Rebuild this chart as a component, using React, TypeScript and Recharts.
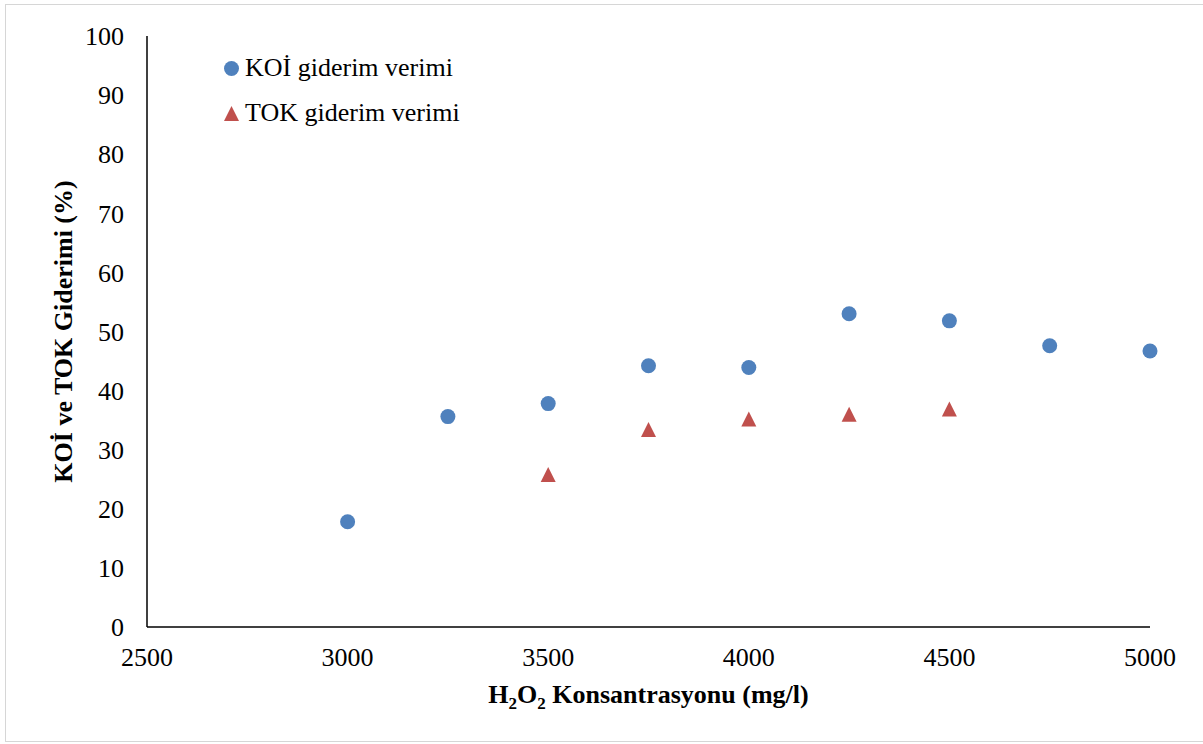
import { ScatterChart, Scatter, XAxis, YAxis, Legend, Label } from 'recharts'

// H2O2 dose (mg/l) vs removal efficiency (%)
const koiDoses = [3000, 3250, 3500, 3750, 4000, 4250, 4500, 4750, 5000]
const koiRemoval = [17.8, 35.6, 37.8, 44.2, 43.9, 53.0, 51.8, 47.6, 46.7]
const tokDoses = [3500, 3750, 4000, 4250, 4500]
const tokRemoval = [25.8, 33.4, 35.2, 36.0, 36.9]

const xTicks = [2500, 3000, 3500, 4000, 4500, 5000]
const yTicks = [0, 10, 20, 30, 40, 50, 60, 70, 80, 90, 100]

const KOI_COLOR = '#4F81BD'
const TOK_COLOR = '#C0504D'
const FONT = 'Liberation Serif, Tinos, DejaVu Serif, serif'
const FS = 26

const koiData = koiDoses.map((x, i) => ({ x, y: koiRemoval[i] }))
const tokData = tokDoses.map((x, i) => ({ x, y: tokRemoval[i] }))

const CircleMark = (props: any) => (
  <circle cx={props.cx} cy={props.cy} r={7.5} fill={KOI_COLOR} />
)

const TriangleMark = (props: any) => {
  const { cx, cy } = props
  const h = 7.5
  return (
    <polygon
      points={`${cx},${cy - h} ${cx + h},${cy + h} ${cx - h},${cy + h}`}
      fill={TOK_COLOR}
    />
  )
}

const rowStyle: React.CSSProperties = {
  position: 'absolute',
  left: 223,
  display: 'flex',
  alignItems: 'center',
  whiteSpace: 'nowrap',
  lineHeight: '30px',
}

const LegendBox = () => (
  <div style={{ position: 'relative', fontFamily: FONT, fontSize: FS, color: '#000' }}>
    <div style={{ ...rowStyle, top: 53 }}>
      <svg width={17} height={17} style={{ marginRight: 5 }}>
        <circle cx={8.5} cy={8.5} r={7.5} fill={KOI_COLOR} />
      </svg>
      <span>KOİ giderim verimi</span>
    </div>
    <div style={{ ...rowStyle, top: 98 }}>
      <svg width={17} height={17} style={{ marginRight: 5 }}>
        <polygon points="8.5,1 16,16 1,16" fill={TOK_COLOR} />
      </svg>
      <span>TOK giderim verimi</span>
    </div>
  </div>
)

const XTitle = (props: any) => {
  const { viewBox } = props
  const cx = viewBox.x + viewBox.width / 2
  const y = viewBox.y + 76
  return (
    <text x={cx} y={y} textAnchor="middle" style={{ fontFamily: FONT }} fontSize={FS} fontWeight="bold" fill="#000">
      <tspan>H</tspan>
      <tspan fontSize={17} dy={6}>2</tspan>
      <tspan dy={-6}>O</tspan>
      <tspan fontSize={17} dy={6}>2</tspan>
      <tspan dy={-6}> Konsantrasyonu (mg/l)</tspan>
    </text>
  )
}

const YTitle = (props: any) => {
  const { viewBox } = props
  const cy = viewBox.y + viewBox.height / 2
  const x = 63
  return (
    <text
      x={x}
      y={cy}
      transform={`rotate(-90, ${x}, ${cy})`}
      textAnchor="middle"
      dominantBaseline="central"
      style={{ fontFamily: FONT }}
      fontSize={FS}
      fontWeight="bold"
      fill="#000"
    >
      KOİ ve TOK Giderimi (%)
    </text>
  )
}

export default function App() {
  const tick = { fontSize: FS, fill: '#000', style: { fontFamily: FONT } }
  return (
    <div style={{ position: 'absolute', left: 0, top: 0, width: 1203, height: 744, overflow: 'hidden', background: '#fff', fontFamily: FONT }}>
      {/* outer frame */}
      <div
        style={{
          position: 'absolute',
          left: 5,
          top: 4,
          width: 1220,
          height: 736,
          border: '1.5px solid #d6d6d6',
        }}
      />
      <div style={{ position: 'absolute', left: 0, top: 0 }}>
        <ScatterChart width={1203} height={744} margin={{ top: 36, right: 53, bottom: 57, left: 87 }} style={{ fontFamily: FONT }}>
          <XAxis
            type="number"
            dataKey="x"
            domain={[2500, 5000]}
            ticks={xTicks}
            tickLine={false}
            tickSize={0}
            tickMargin={21}
            height={60}
            axisLine={{ stroke: '#000', strokeWidth: 1.5 }}
            tick={tick}
            interval={0}
          >
            <Label content={XTitle} />
          </XAxis>
          <YAxis
            type="number"
            dataKey="y"
            domain={[0, 100]}
            ticks={yTicks}
            tickLine={false}
            tickSize={0}
            tickMargin={23}
            width={60}
            axisLine={{ stroke: '#000', strokeWidth: 1.5 }}
            tick={tick}
            interval={0}
          >
            <Label content={YTitle} />
          </YAxis>
          <Legend
            layout="horizontal"
            verticalAlign="middle"
            align="center"
            wrapperStyle={{ top: 0, left: 0, width: 0, height: 0 }}
            content={LegendBox}
          />
          <Scatter name="KOİ giderim verimi" data={koiData} shape={CircleMark} isAnimationActive={false} />
          <Scatter name="TOK giderim verimi" data={tokData} shape={TriangleMark} isAnimationActive={false} />
        </ScatterChart>
      </div>
    </div>
  )
}
